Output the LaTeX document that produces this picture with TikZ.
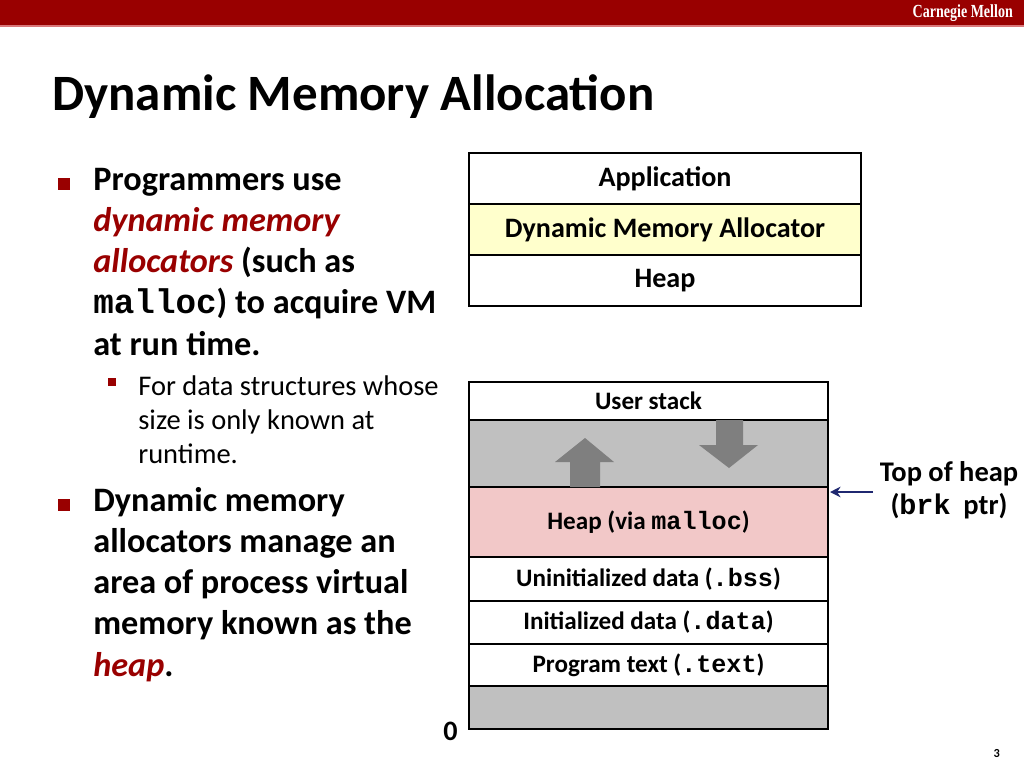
\documentclass[tikz,border=0pt]{standalone}
\usepackage{fontspec}
\setmainfont{Carlito}
\setmonofont{Liberation Mono}
\newfontfamily\cmufont{Liberation Serif}
\usetikzlibrary{arrows.meta,positioning}
\definecolor{cmured}{HTML}{990000}
\definecolor{barline}{HTML}{D9777A}
\definecolor{gapgray}{HTML}{C0C0C0}
\definecolor{arrowgray}{HTML}{7F7F7F}
\definecolor{allocyellow}{HTML}{FFFFCC}
\definecolor{heappink}{HTML}{F2C8C8}
\definecolor{ptrblue}{HTML}{1F2870}

\tikzset{
	cell/.style={draw,line width=1.5pt,outer sep=0pt,inner sep=0pt,font=\fontsize{16}{19}\selectfont\bfseries},
	topcell/.style={cell,minimum width=7.84cm,minimum height=1.02cm},
	memcell/.style={cell,minimum width=7.18cm,font=\fontsize{14.3}{17}\selectfont\bfseries},
	bigtext/.style={anchor=base west,align=left,inner sep=0pt,font=\fontsize{19.5}{23.35}\selectfont\bfseries},
	smalltext/.style={anchor=base west,align=left,inner sep=0pt,font=\fontsize{16.2}{19.35}\selectfont},
	bigbullet/.style={fill=cmured,minimum size=0.24cm,inner sep=0pt},
	smallbullet/.style={fill=cmured,minimum size=0.15cm,inner sep=0pt}
}

\begin{document}
\begin{tikzpicture}[x=0.02cm,y=-0.02cm]
	\useasboundingbox (0,0) rectangle (1024,768);
	% header
	\fill[cmured] (0,0) rectangle (1024,25);
	\fill[barline] (0,25) rectangle (1024,27);
	\node[anchor=east,text=white,font=\cmufont\fontsize{10.5}{12}\selectfont\bfseries] (cmu) at (1019,13) {\scalebox{0.76}[1]{Carnegie Mellon}};
	\node[anchor=base west,inner sep=0pt,font=\fontsize{29}{34}\selectfont\bfseries] (title) at (52,110) {Dynamic Memory Allocation};

	% bullets (base = last line)
	\node[bigbullet] (b1) at (64,184) {};
	\node[bigtext] (t1) at (93,355) {Programmers use\\
		\textcolor{cmured}{\textit{dynamic memory}}\\
		\textcolor{cmured}{\textit{allocators}} (such as\\
		\texttt{malloc}) to acquire VM\\
		at run time.};
	\node[smallbullet] (s1) at (112,382) {};
	\node[smalltext] (t2) at (138,463) {For data structures whose\\
		size is only known at\\
		runtime.};
	\node[bigbullet] (b2) at (64,505) {};
	\node[bigtext] (t3) at (93,676) {Dynamic memory\\
		allocators manage an\\
		area of process virtual\\
		memory known as the\\
		\textcolor{cmured}{\textit{heap}}.};

	% allocator stack
	\node[topcell] (app) at (665,178.5) {Application};
	\node[topcell,fill=allocyellow,below=0pt of app] (alloc) {Dynamic Memory Allocator};
	\node[topcell,below=0pt of alloc] (heap) {Heap};

	% process memory image
	\node[memcell,minimum height=0.76cm] (ustack) at (648.5,401) {User stack};
	\node[memcell,minimum height=1.34cm,fill=gapgray,below=0pt of ustack] (gap) {};
	\node[memcell,minimum height=1.40cm,fill=heappink,below=0pt of gap] (heapv) {Heap (via \texttt{malloc})};
	\node[memcell,minimum height=0.88cm,below=0pt of heapv] (bss) {Uninitialized data (\texttt{.bss})};
	\node[memcell,minimum height=0.86cm,below=0pt of bss] (data) {Initialized data (\texttt{.data})};
	\node[memcell,minimum height=0.84cm,below=0pt of data] (ptext) {Program text (\texttt{.text})};
	\node[memcell,minimum height=0.86cm,fill=gapgray,below=0pt of ptext] (bottom) {};
	\node[anchor=east,inner sep=0pt,font=\fontsize{16}{19}\selectfont\bfseries] (zero) at (458,731) {0};

	% growth arrows
	\fill[arrowgray] (570,487) -- (570,462) -- (555,462) -- (585,438) -- (614,462) -- (600,462) -- (600,487) -- cycle;
	\fill[arrowgray] (716,420) -- (716,445) -- (699,445) -- (729,468) -- (758,445) -- (743,445) -- (743,420) -- cycle;

	% brk pointer
	\node[align=center,inner sep=0pt,font=\fontsize{16.2}{18.8}\selectfont\bfseries] (toplbl) at (949,490) {Top of heap\\(\texttt{brk}\ \ ptr)};
	\coordinate (brk) at (830,492);
	\draw[ptrblue,line width=1.2pt,-{Stealth[length=6pt,width=6pt]}] (873,492) -- (brk);

	\node[anchor=east,font=\fontsize{7}{8}\selectfont\bfseries] (pnum) at (1006,753) {3};
\end{tikzpicture}
\end{document}
